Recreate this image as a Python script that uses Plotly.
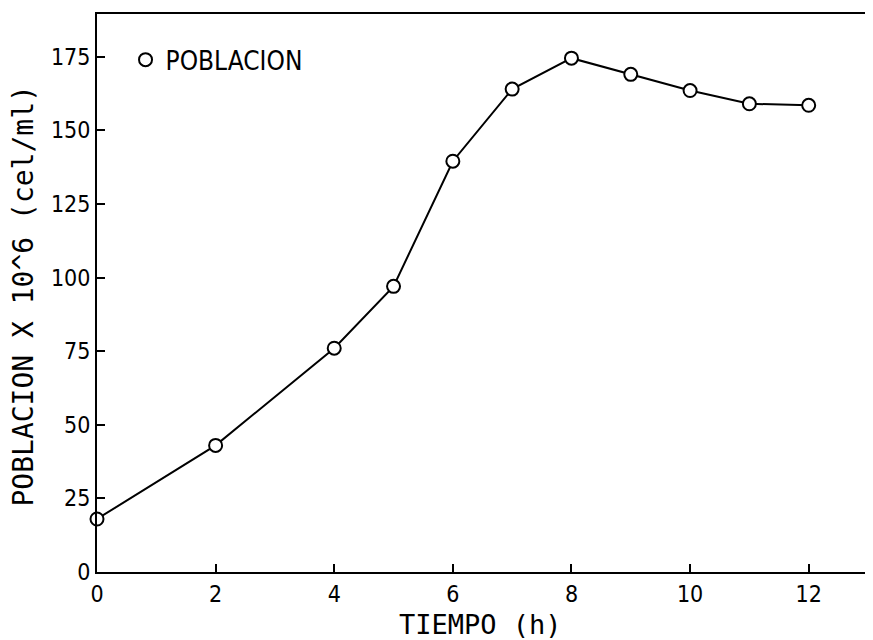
import plotly.graph_objects as go

tiempo = [0, 2, 4, 5, 6, 7, 8, 9, 10, 11, 12]
poblacion = [18, 43, 76, 97, 139.5, 164, 174.5, 169, 163.5, 159, 158.5]

x_ticks = [0, 2, 4, 6, 8, 10, 12]
y_ticks = [0, 25, 50, 75, 100, 125, 150, 175]

x_title = "TIEMPO (h)"
y_title = "POBLACION X 10^6 (cel/ml)"
series_name = "POBLACION"

narrow = "Liberation Sans Narrow, DejaVu Sans Condensed, sans-serif"
tick_font = dict(family=narrow, size=23, color="black")
title_font = dict(family="DejaVu Sans Mono, monospace", size=28, color="black")
xtitle_font = dict(family="DejaVu Sans Mono, monospace", size=27, color="black")

fig = go.Figure()
fig.add_trace(go.Scatter(
    x=tiempo, y=poblacion, mode="lines+markers", name=series_name, showlegend=False,
    line=dict(color="black", width=2), cliponaxis=False,
    marker=dict(symbol="circle", size=13, color="white", line=dict(color="black", width=2)),
))
fig.add_trace(go.Scatter(
    x=[None], y=[None], mode="markers", name=series_name, showlegend=True,
    marker=dict(symbol="circle", size=13, color="white", line=dict(color="black", width=2)),
))

fig.update_layout(
    width=865, height=632,
    margin=dict(l=89, r=5, t=6, b=68),
    paper_bgcolor="white", plot_bgcolor="white",
    showlegend=True,
    legend=dict(x=0.037, y=0.918, xanchor="left", yanchor="middle",
                font=dict(family=narrow, size=26, color="black"),
                bgcolor="rgba(0,0,0,0)", itemwidth=30),
    annotations=[
        dict(text=x_title, xref="paper", yref="paper", x=0.498, y=-0.0932,
             xanchor="center", yanchor="middle", showarrow=False, font=xtitle_font),
        dict(text=y_title, xref="paper", yref="paper", x=-0.095, y=0.495,
             xanchor="center", yanchor="middle", showarrow=False, textangle=-90,
             font=title_font),
    ],
)
fig.update_xaxes(
    range=[0, 13], tickvals=x_ticks, ticktext=[str(v) for v in x_ticks],
    ticks="inside", ticklen=8, tickwidth=1.5, tickcolor="black",
    showline=True, linecolor="black", linewidth=2, mirror=True,
    showgrid=False, zeroline=False, tickfont=tick_font,
    ticklabelstandoff=0,
    automargin=False,
)
fig.update_yaxes(
    range=[0, 189.5], tickvals=y_ticks, ticktext=[str(v) for v in y_ticks],
    ticks="inside", ticklen=8, tickwidth=1.5, tickcolor="black",
    showline=True, linecolor="black", linewidth=2, mirror=True,
    showgrid=False, zeroline=False, tickfont=tick_font,
    automargin=False,
)

fig.write_html("out.html")
